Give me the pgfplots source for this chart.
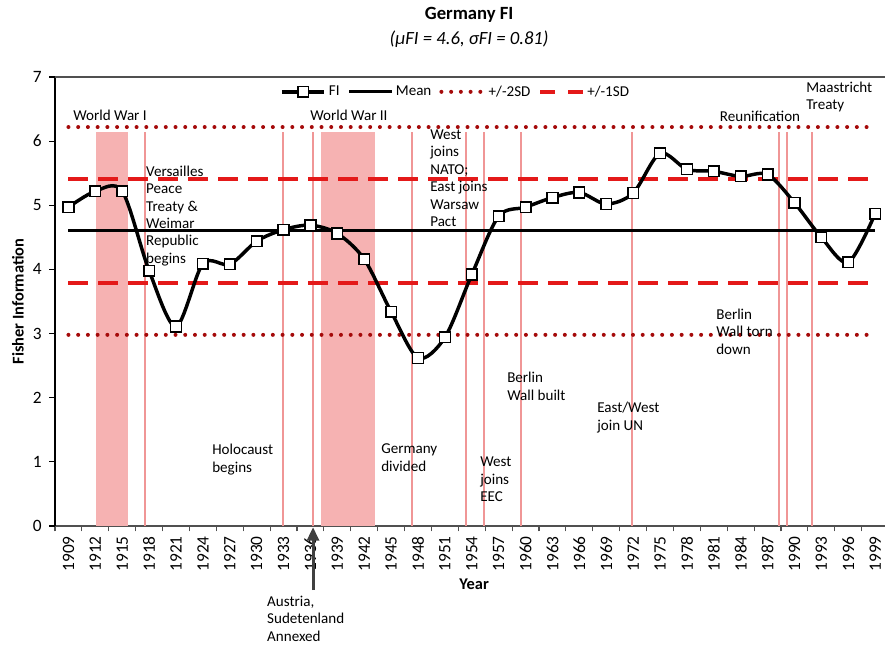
\documentclass[border=0pt]{standalone}
\usepackage{pgfplots}
\pgfplotsset{compat=1.18}
\usepackage{fontspec}
\setmainfont{Carlito}
\usetikzlibrary{arrows.meta}

\definecolor{shade}{RGB}{246,178,178}
\definecolor{evline}{RGB}{240,150,150}
\definecolor{sdtwo}{RGB}{165,10,10}
\definecolor{sdone}{RGB}{228,25,25}
\definecolor{axgray}{RGB}{80,80,80}
\definecolor{arrowgray}{RGB}{64,64,64}

\tikzset{annot/.style={font=\fontsize{11.3}{13.05}\selectfont, align=left, inner sep=0pt, anchor=north west}}

\pgfplotstableread{
year fi
1909 4.97
1912 5.22
1915 5.22
1918 3.98
1921 3.11
1924 4.09
1927 4.08
1930 4.44
1933 4.62
1936 4.69
1939 4.56
1942 4.16
1945 3.34
1948 2.62
1951 2.94
1954 3.92
1957 4.83
1960 4.97
1963 5.12
1966 5.20
1969 5.02
1972 5.19
1975 5.81
1978 5.56
1981 5.53
1984 5.45
1987 5.48
1990 5.04
1993 4.50
1996 4.11
1999 4.87
}\fidata

\begin{document}
\begin{tikzpicture}
\begin{axis}[
  name=main,
  scale only axis,
  width=622.5pt, height=336.75pt,
  xmin=1907.5, xmax=2000.1,
  ymin=0, ymax=7,
  clip=false,
  axis x line*=bottom, axis y line*=left,
  x axis line style={-, draw=axgray, line width=1pt},
  y axis line style={-, draw=black, line width=1.5pt},
  ytick={0,1,...,7},
  ytick align=outside, ytick pos=left,
  major tick length=4.5pt,
  minor tick length=4pt,
  ytick style={black, line width=0.8pt},
  xtick={1909,1912,...,1999},
  minor xtick={1907.5,1910.5,...,1999},
  xtick align=outside, xtick pos=bottom,
  major x tick style={draw=none},
  minor x tick style={draw=axgray, line width=0.8pt},
  /pgf/number format/1000 sep={},
  /pgf/number format/assume math mode=true,
  tick label style={font=\fontsize{13}{15}\selectfont},
  xticklabel style={rotate=90, anchor=east, inner ysep=0.3pt, inner xsep=3pt},
  yticklabel style={xshift=-2pt},
  xlabel={Year},
  ylabel={Fisher Information},
  xlabel style={font=\bfseries\fontsize{12.3}{14}\selectfont, at={(axis description cs:0.505,-0.129)}, anchor=center},
  ylabel style={font=\bfseries\fontsize{12.3}{14}\selectfont, at={(axis description cs:-0.0446,0.5)}, anchor=center},
  legend columns=4,
  legend style={at={(0.483,0.967)}, anchor=center, draw=none, fill=none,
    font=\fontsize{11.3}{13}\selectfont,
    /tikz/every even column/.append style={column sep=4pt}},
  legend image code/.code={\draw[mark repeat=2,mark phase=2,#1] plot coordinates {(0pt,0pt) (16pt,0pt) (32pt,0pt)};},
]
% legend images
\addlegendimage{black, line width=2.6pt, mark=square*, mark options={fill=white, draw=black, line width=1.1pt, solid}, mark size=4pt}
\addlegendentry{FI}
\addlegendimage{black, line width=2.25pt}
\addlegendentry{Mean}
\addlegendimage{sdtwo, line width=3pt, line cap=round, dash pattern=on 0pt off 7.3pt}
\addlegendentry{+/-2SD}
\addlegendimage{sdone, line width=2.6pt, dash pattern=on 11pt off 10pt}
\addlegendentry{+/-1SD}

% war shading
\addplot[forget plot, fill=shade, draw=none] coordinates {(1912.07,6.15) (1915.64,6.15)} \closedcycle;
\addplot[forget plot, fill=shade, draw=none] coordinates {(1937.18,6.15) (1943.2,6.15)} \closedcycle;

% event lines
\pgfplotsinvokeforeach{1917.54,1932.9,1936.32,1947.38,1953.36,1955.36,1959.49,1971.87,1988.31,1989.14,1991.93}{
  \addplot[forget plot, evline, line width=1.5pt] coordinates {(#1,0) (#1,6.15)};
}

% SD and mean lines
\addplot[forget plot, sdtwo, line width=3pt, line cap=round, dash pattern=on 0pt off 7.3pt] coordinates {(1909,6.22) (1999,6.22)};
\addplot[forget plot, sdtwo, line width=3pt, line cap=round, dash pattern=on 0pt off 7.3pt] coordinates {(1909,2.98) (1999,2.98)};
\addplot[forget plot, sdone, line width=2.6pt, dash pattern=on 14.5pt off 8pt] coordinates {(1909,5.41) (1999,5.41)};
\addplot[forget plot, sdone, line width=2.6pt, dash pattern=on 14.5pt off 8pt] coordinates {(1909,3.79) (1999,3.79)};
\addplot[forget plot, black, line width=2.25pt] coordinates {(1909,4.6) (1999,4.6)};

% FI
\addplot[forget plot, black, line width=2.6pt, smooth, mark=square*, mark options={fill=white, draw=black, line width=1.1pt, solid}, mark size=4pt] table[x=year, y=fi] {\fidata};

% top border
\draw[axgray, line width=1.2pt] (rel axis cs:0,1) -- (rel axis cs:1,1);

% titles
\node[font=\bfseries\fontsize{14}{16}\selectfont] at (axis description cs:0.499,1.138) {Germany FI};
\node[font=\itshape\fontsize{14}{16}\selectfont] at (axis description cs:0.499,1.0846) {(μFI = 4.6, σFI = 0.81)};

% annotations
\node[annot, anchor=center] at (axis cs:1913.64,6.41) {World War I};
\node[annot, anchor=center] at (axis cs:1940.3,6.41) {World War II};
\node[annot] at (axis cs:1917.65,5.62) {Versailles\\Peace\\Treaty \&\\Weimar\\Republic\\begins};
\node[annot] at (axis cs:1949.34,6.18) {West\\joins\\NATO;\\East joins\\Warsaw\\Pact};
\node[annot, anchor=center] at (axis cs:1986.16,6.38) {Reunification};
\node[annot] at (axis cs:1991.29,6.93) {Maastricht\\Treaty};
\node[annot] at (axis cs:1981.25,3.39) {Berlin\\Wall torn\\down};
\node[annot] at (axis cs:1957.93,2.40) {Berlin\\Wall built};
\node[annot] at (axis cs:1967.97,1.93) {East/West\\join UN};
\node[annot] at (axis cs:1925.02,1.28) {Holocaust\\begins};
\node[annot] at (axis cs:1943.87,1.28) {Germany\\divided};
\node[annot] at (axis cs:1954.92,1.08) {West\\joins\\EEC};
\node[annot] at (axis cs:1931.15,-1.09) {Austria,\\Sudetenland\\Annexed};

% arrow
\draw[-{Triangle[length=10pt,width=9pt]}, line width=2.2pt, arrowgray] (axis cs:1936.29,-1.0) -- (axis cs:1936.29,-0.02);
\end{axis}
\pgfresetboundingbox
\path[use as bounding box] (main.south west) ++(-41.25pt,-102.75pt) rectangle ++(663.75pt,497.25pt);
\end{tikzpicture}
\end{document}
